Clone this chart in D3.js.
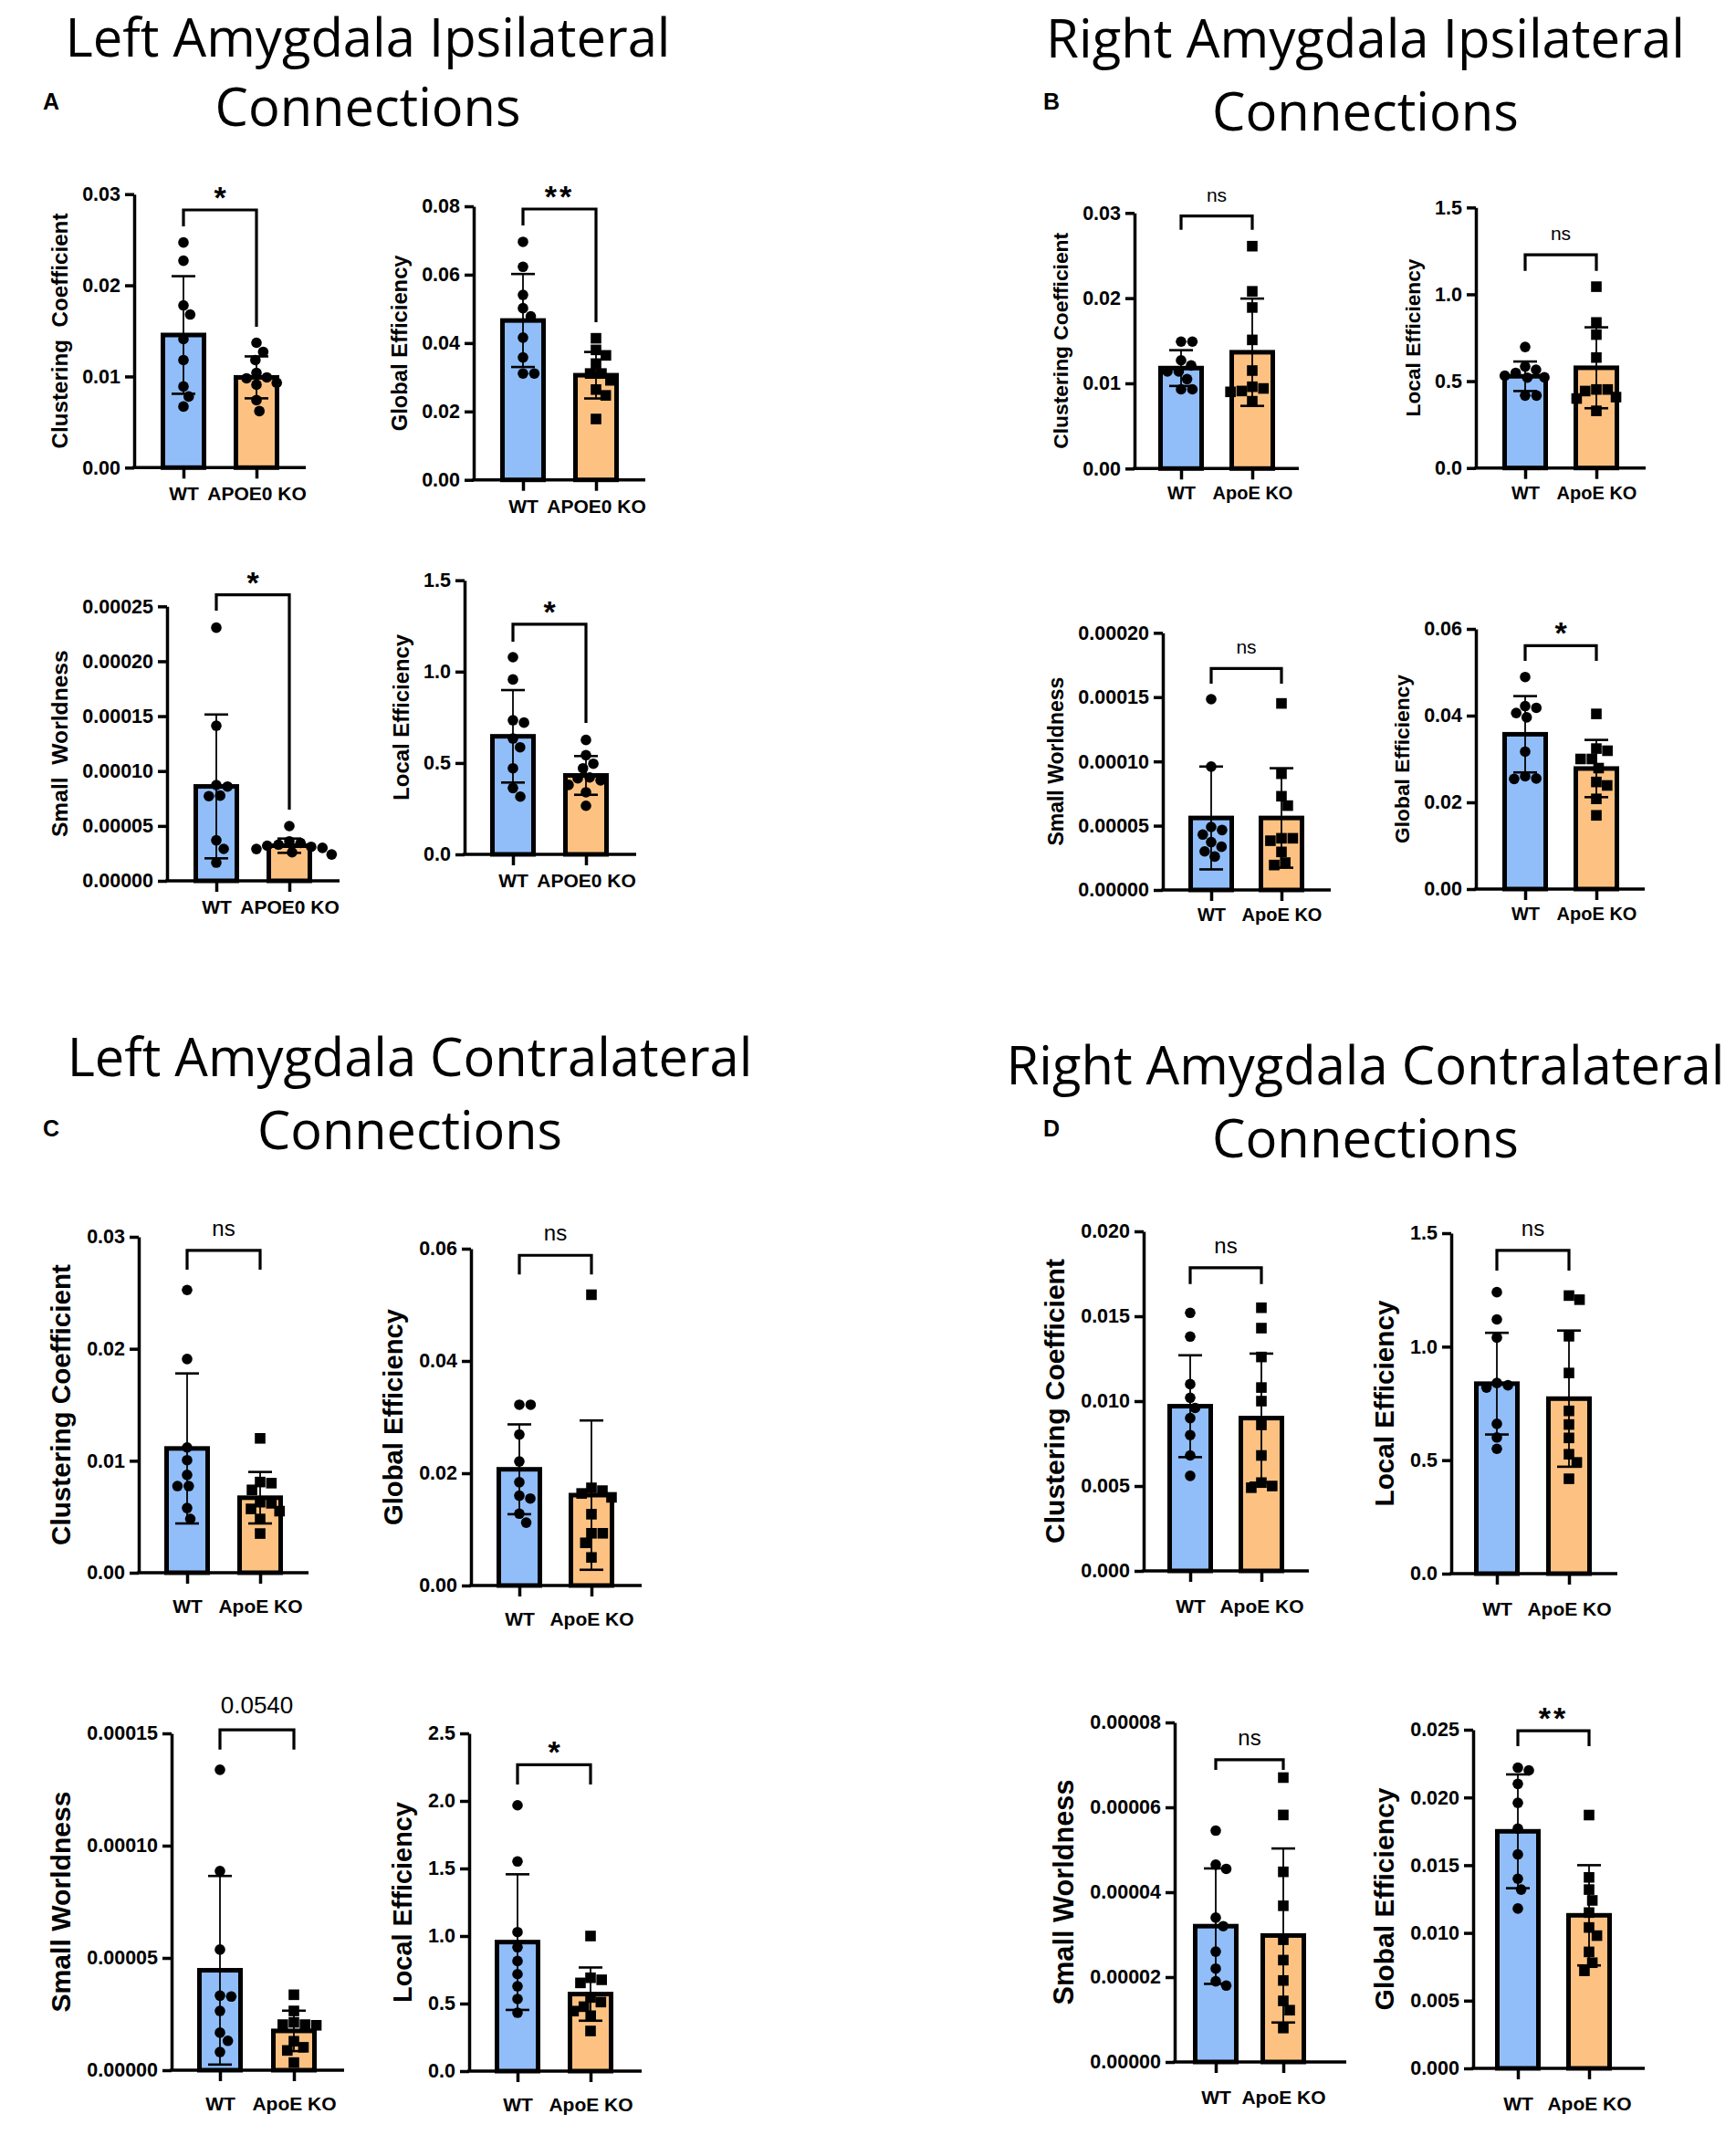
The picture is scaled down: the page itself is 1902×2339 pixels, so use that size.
<!DOCTYPE html>
<html>
<head>
<meta charset="utf-8">
<script src="https://cdn.jsdelivr.net/npm/d3@7"></script>
<style>
  body { margin: 0; background: #fff; }
  text { font-family: "Liberation Sans", Arial, sans-serif; }
</style>
</head>
<body>
<script>
// ---- data ----
var panelLetters = ['A', 'B', 'C', 'D'];
var panelTitles = [
  ['Left Amygdala Ipsilateral', 'Connections'],
  ['Right Amygdala Ipsilateral', 'Connections'],
  ['Left Amygdala Contralateral', 'Connections'],
  ['Right Amygdala Contralateral', 'Connections']
];
var groupsA = ['WT', 'APOE0 KO'];
var groupsOther = ['WT', 'ApoE KO'];

// 16 small charts, 4 per panel (A1..A4, B1..B4, C1..C4, D1..D4)
var yLabels = [
  'Clustering  Coefficient', 'Global Efficiency', 'Small  Worldness', 'Local Efficiency',
  'Clustering Coefficient', 'Local Efficiency', 'Small Worldness', 'Global Efficiency',
  'Clustering Coefficient', 'Global Efficiency', 'Small Worldness', 'Local Efficiency',
  'Clustering Coefficient', 'Local Efficiency', 'Small Worldness', 'Global Efficiency'
];
var yMax = [0.03, 0.08, 0.00025, 1.5, 0.03, 1.5, 0.0002, 0.06, 0.03, 0.06, 0.00015, 2.5, 0.02, 1.5, 0.00008, 0.025];
var yStep = [0.01, 0.02, 0.00005, 0.5, 0.01, 0.5, 0.00005, 0.02, 0.01, 0.02, 0.00005, 0.5, 0.005, 0.5, 0.00002, 0.005];
var tickDecimals = [2, 2, 5, 1, 2, 1, 5, 2, 2, 2, 5, 1, 3, 1, 5, 3];

var wtMean = [0.01455, 0.0466, 0.000086, 0.646, 0.01179, 0.528, 0.000056, 0.0357, 0.0111, 0.0207, 0.0000445, 0.955, 0.0097, 0.837, 0.000032, 0.0175];
var wtSD   = [0.00645, 0.0136, 0.0000655, 0.253, 0.0021, 0.085, 0.00004, 0.0088, 0.0067, 0.0080, 0.000042, 0.502, 0.003, 0.224, 0.0000136, 0.0042];
var koMean = [0.0099, 0.0306, 0.000032, 0.432, 0.01365, 0.577, 0.000056, 0.0278, 0.0067, 0.0161, 0.0000175, 0.57, 0.009, 0.771, 0.0000298, 0.0113];
var koSD   = [0.0023, 0.0068, 0.0000065, 0.106, 0.0063, 0.233, 0.0000387, 0.0066, 0.0023, 0.0133, 0.000009, 0.197, 0.0038, 0.30, 0.0000205, 0.0037];

var wtPoints = [
  [0.0247, 0.0227, 0.0178, 0.0168, 0.0141, 0.0118, 0.0089, 0.0078, 0.0067],
  [0.0696, 0.0623, 0.0541, 0.0502, 0.0478, 0.0416, 0.0358, 0.0311, 0.0311],
  [0.0002306, 0.0001413, 0.0000873, 0.0000859, 0.0000776, 0.0000771, 0.0000369, 0.0000291, 0.0000166],
  [1.079, 0.957, 0.734, 0.721, 0.634, 0.586, 0.471, 0.363, 0.316],
  [0.0149, 0.0149, 0.0127, 0.0121, 0.0114, 0.0114, 0.0105, 0.0093, 0.0093],
  [0.697, 0.584, 0.566, 0.548, 0.531, 0.522, 0.52, 0.417, 0.417],
  [0.0001484, 0.0000959, 0.000049, 0.0000466, 0.0000431, 0.0000372, 0.0000336, 0.00003, 0.000026],
  [0.0489, 0.0422, 0.0418, 0.0406, 0.0396, 0.0317, 0.026, 0.0255, 0.0254],
  [0.02525, 0.01909, 0.01119, 0.01005, 0.00874, 0.00774, 0.00774, 0.00578, 0.00481],
  [0.0322, 0.0322, 0.0269, 0.0221, 0.0184, 0.016, 0.0155, 0.0128, 0.0112],
  [0.0001338, 0.0000887, 0.0000537, 0.0000332, 0.0000328, 0.0000264, 0.0000167, 0.0000131, 0.0000081],
  [1.968, 1.552, 1.029, 0.917, 0.815, 0.718, 0.628, 0.534, 0.432],
  [0.0152, 0.0138, 0.0110, 0.0102, 0.0096, 0.0090, 0.0080, 0.0068, 0.0056],
  [1.24, 1.12, 1.04, 0.84, 0.83, 0.82, 0.66, 0.60, 0.55],
  [0.0000545, 0.0000465, 0.0000455, 0.000034, 0.000032, 0.000026, 0.000022, 0.000019, 0.000018],
  [0.0222, 0.0220, 0.0210, 0.0196, 0.0177, 0.0158, 0.0140, 0.0132, 0.0118]
];
var koPoints = [
  [0.0137, 0.0127, 0.0118, 0.0104, 0.0099, 0.0098, 0.0093, 0.0091, 0.0074, 0.0062],
  [0.0414, 0.0380, 0.0364, 0.0340, 0.0311, 0.0311, 0.0291, 0.0264, 0.0247, 0.0178],
  [0.0000499, 0.000036, 0.0000345, 0.000033, 0.000032, 0.000031, 0.00003, 0.000029, 0.000026, 0.000024],
  [0.626, 0.543, 0.496, 0.471, 0.421, 0.416, 0.405, 0.38, 0.34, 0.266],
  [0.0261, 0.0208, 0.0189, 0.0151, 0.0115, 0.0096, 0.0094, 0.0091, 0.0090, 0.0079],
  [1.044, 0.838, 0.768, 0.636, 0.452, 0.443, 0.452, 0.408, 0.40, 0.329],
  [0.0001451, 0.0000904, 0.0000729, 0.0000656, 0.0000402, 0.0000402, 0.0000383, 0.0000296, 0.0000213, 0.0000194],
  [0.0404, 0.0324, 0.0319, 0.030, 0.030, 0.0279, 0.0247, 0.0239, 0.0208, 0.017],
  [0.0120, 0.0081, 0.0080, 0.0074, 0.0063, 0.0062, 0.0057, 0.0055, 0.0048, 0.0035],
  [0.0518, 0.0174, 0.0169, 0.0164, 0.0157, 0.0127, 0.0093, 0.0093, 0.0076, 0.005],
  [0.0000336, 0.0000264, 0.0000213, 0.0000203, 0.00002, 0.0000203, 0.0000129, 0.0000102, 0.0000088, 0.0000034],
  [1.0, 0.691, 0.676, 0.653, 0.545, 0.511, 0.477, 0.444, 0.41, 0.297],
  [0.0155, 0.0143, 0.0126, 0.0108, 0.0100, 0.0086, 0.0068, 0.0052, 0.0050, 0.0049],
  [1.225, 1.207, 1.046, 0.884, 0.717, 0.657, 0.598, 0.526, 0.49, 0.418],
  [0.000067, 0.0000582, 0.0000448, 0.0000368, 0.0000288, 0.000024, 0.0000192, 0.0000144, 0.0000122, 0.000008],
  [0.0187, 0.0141, 0.0132, 0.0124, 0.0115, 0.0104, 0.0098, 0.0086, 0.0078, 0.0072]
];
var koShape = ['circle', 'square', 'circle', 'circle', 'square', 'square', 'square', 'square',
               'square', 'square', 'square', 'square', 'square', 'square', 'square', 'square'];

// significance brackets (in data units)
var sigText = ['*', '**', '*', '*', 'ns', 'ns', 'ns', '*', 'ns', 'ns', '0.0540', '*', 'ns', 'ns', 'ns', '**'];
var bracketTop = [0.02827, 0.0792, 0.0002605, 1.259, 0.02964, 1.228, 0.0001723, 0.05615, 0.02878, 0.05882, 0.0001516, 2.268, 0.01786, 1.424, 0.0000712, 0.02493];
var bracketWT  = [0.02647, 0.0744, 0.0002461, 1.164, 0.02803, 1.135, 0.0001605, 0.05263, 0.02707, 0.0554, 0.0001428, 2.122, 0.01689, 1.335, 0.0000688, 0.02379];
var bracketKO  = [0.01546, 0.0461, 0.0000648, 0.719, 0.02803, 1.135, 0.0001605, 0.05263, 0.02707, 0.0554, 0.0001428, 2.122, 0.01689, 1.335, 0.0000688, 0.02379];

// ---- layout (pixels) ----
var chartLayout = [
  {ax: 147, yTop: 212.7, y0: 512.3, wt: 201, ko: 281, xEnd: 335, lab: 258},
  {ax: 519, yTop: 226, y0: 525.7, wt: 573, ko: 653, xEnd: 707, lab: 193},
  {ax: 183, yTop: 664.3, y0: 965, wt: 237, ko: 317, xEnd: 372, lab: 205},
  {ax: 509, yTop: 635.7, y0: 936, wt: 562, ko: 642, xEnd: 697, lab: 182},
  {ax: 1243, yTop: 233.3, y0: 513.3, wt: 1294, ko: 1372, xEnd: 1423, lab: 237},
  {ax: 1617, yTop: 227.3, y0: 512.7, wt: 1671, ko: 1749, xEnd: 1803, lab: 173},
  {ax: 1274, yTop: 693.3, y0: 975, wt: 1327, ko: 1404, xEnd: 1458, lab: 185},
  {ax: 1617, yTop: 689, y0: 974, wt: 1671, ko: 1749, xEnd: 1802, lab: 185},
  {ax: 152, yTop: 1355, y0: 1723, wt: 205, ko: 285, xEnd: 338, lab: 308},
  {ax: 516, yTop: 1368, y0: 1737, wt: 569, ko: 648, xEnd: 703, lab: 237},
  {ax: 188, yTop: 1899, y0: 2268, wt: 241, ko: 322, xEnd: 377, lab: 242},
  {ax: 514, yTop: 1899, y0: 2269, wt: 567, ko: 647, xEnd: 703, lab: 220},
  {ax: 1253, yTop: 1349, y0: 1721, wt: 1304, ko: 1382, xEnd: 1434, lab: 312},
  {ax: 1590, yTop: 1351, y0: 1724, wt: 1640, ko: 1719, xEnd: 1772, lab: 226},
  {ax: 1287, yTop: 1887, y0: 2259, wt: 1332, ko: 1406, xEnd: 1475, lab: 247},
  {ax: 1614, yTop: 1895, y0: 2266, wt: 1663, ko: 1741, xEnd: 1802, lab: 244}
];
var titleLayout = [
  {cx: 403, y1: 62, y2: 138, w1: 663, w2: 335, lx: 56, ly: 120},
  {cx: 1496, y1: 63, y2: 143, w1: 700, w2: 336, lx: 1152, ly: 120},
  {cx: 449, y1: 1179, y2: 1259, w1: 751, w2: 334, lx: 56, ly: 1245},
  {cx: 1496, y1: 1188, y2: 1268, w1: 787, w2: 336, lx: 1152, ly: 1245}
];
var xLabelSize = [21, 20, 21, 21];
var xLabelPad = [9, 8, 17, 19];

var wtColor = '#91bef9';
var koColor = '#fdc282';
var ptR = 5.8;

var svg = d3.select('body').append('svg')
  .attr('width', 1902)
  .attr('height', 2339);

function fitText(sel, target) {
  var w = sel.node().getComputedTextLength();
  var fs = parseFloat(sel.attr('font-size'));
  sel.attr('font-size', fs * target / w);
}

// titles and panel letters
panelTitles.forEach(function(lines, p) {
  var t = titleLayout[p];
  var t1 = svg.append('text').attr('x', t.cx).attr('y', t.y1)
    .attr('text-anchor', 'middle').attr('font-size', 56)
    .style('font-family', '"Open Sans", "Noto Sans", sans-serif')
    .text(lines[0]);
  fitText(t1, t.w1);
  var t2 = svg.append('text').attr('x', t.cx).attr('y', t.y2)
    .attr('text-anchor', 'middle').attr('font-size', 56)
    .style('font-family', '"Open Sans", "Noto Sans", sans-serif')
    .text(lines[1]);
  fitText(t2, t.w2);
  svg.append('text').attr('x', t.lx).attr('y', t.ly)
    .attr('text-anchor', 'middle').attr('font-size', 25).attr('font-weight', 'bold')
    .text(panelLetters[p]);
});

// simple beeswarm so overlapping points spread sideways like the original
function swarm(values, yScale, r) {
  var placed = [];
  var pts = values.map(function(v) { return {v: v, py: yScale(v)}; })
    .sort(function(a, b) { return a.py - b.py; });
  pts.forEach(function(p) {
    var cands = [0];
    placed.forEach(function(q) {
      var dy = p.py - q.py;
      if (Math.abs(dy) < 2 * r) {
        var dx = Math.sqrt(4 * r * r - dy * dy);
        cands.push(q.dx + dx, q.dx - dx);
      }
    });
    cands.sort(function(a, b) { return Math.abs(a) - Math.abs(b); });
    for (var k = 0; k < cands.length; k++) {
      var c = cands[k];
      var ok = placed.every(function(q) { return Math.hypot(c - q.dx, p.py - q.py) >= 2 * r - 0.01; });
      if (ok) { p.dx = c; break; }
    }
    placed.push(p);
  });
  return placed;
}

function drawChart(i) {
  var L = chartLayout[i];
  var p = Math.floor(i / 4);
  var groups = p === 0 ? groupsA : groupsOther;
  var g = svg.append('g');

  var y = d3.scaleLinear().domain([0, yMax[i]]).range([L.y0, L.yTop]);
  var x = d3.scalePoint().domain(groups).range([L.wt, L.ko]);

  // y axis
  var yAxis = d3.axisLeft(y)
    .tickValues(d3.range(0, yMax[i] + yStep[i] / 2, yStep[i]))
    .tickFormat(d3.format('.' + tickDecimals[i] + 'f'))
    .tickSize(10).tickSizeOuter(0).tickPadding(5);
  var ay = g.append('g').attr('transform', 'translate(' + L.ax + ',0)').call(yAxis);
  ay.select('.domain').attr('stroke', '#000').attr('stroke-width', 3.5);
  ay.selectAll('.tick line').attr('stroke', '#000').attr('stroke-width', 3.5);
  ay.selectAll('.tick text').attr('font-size', 21.5).attr('font-weight', 'bold')
    .attr('fill', '#000').style('font-family', '"Liberation Sans", Arial, sans-serif');

  // x axis
  var xAxis = d3.axisBottom(x).tickSize(12).tickSizeOuter(0).tickPadding(xLabelPad[p]);
  var axx = g.append('g').attr('transform', 'translate(0,' + L.y0 + ')').call(xAxis);
  axx.select('.domain').remove();
  axx.selectAll('.tick line').attr('stroke', '#000').attr('stroke-width', 3.5);
  axx.selectAll('.tick text').attr('font-size', xLabelSize[p]).attr('font-weight', 'bold')
    .attr('fill', '#000').style('font-family', '"Liberation Sans", Arial, sans-serif');
  g.append('line')
    .attr('x1', L.ax - 1.75).attr('x2', L.xEnd)
    .attr('y1', L.y0).attr('y2', L.y0)
    .attr('stroke', '#000').attr('stroke-width', 3.5);

  // y label, sized to the length it has in the figure
  var bb = ay.node().getBBox();
  var yl = g.append('text')
    .attr('text-anchor', 'middle')
    .attr('font-size', 20).attr('font-weight', 'bold')
    .style('white-space', 'pre')
    .text(yLabels[i]);
  fitText(yl, L.lab);
  var fs = parseFloat(yl.attr('font-size'));
  yl.attr('transform', 'translate(' + (L.ax + bb.x - 8 - fs * 0.35) + ',' + ((L.y0 + L.yTop) / 2) + ') rotate(-90)');

  var groupData = [
    {name: groups[0], mean: wtMean[i], sd: wtSD[i], pts: wtPoints[i], fill: wtColor, shape: 'circle'},
    {name: groups[1], mean: koMean[i], sd: koSD[i], pts: koPoints[i], fill: koColor, shape: koShape[i]}
  ];

  groupData.forEach(function(d) {
    var cx = x(d.name);
    g.append('rect')
      .attr('x', cx - 22.5).attr('width', 45)
      .attr('y', y(d.mean)).attr('height', L.y0 - y(d.mean))
      .attr('fill', d.fill).attr('stroke', '#000').attr('stroke-width', 5);

    // error bar (mean ± SD)
    g.append('line')
      .attr('x1', cx).attr('x2', cx)
      .attr('y1', y(d.mean + d.sd)).attr('y2', y(Math.max(0, d.mean - d.sd)))
      .attr('stroke', '#000').attr('stroke-width', 1.8);
    [d.mean + d.sd, Math.max(0, d.mean - d.sd)].forEach(function(v) {
      g.append('line')
        .attr('x1', cx - 13).attr('x2', cx + 13)
        .attr('y1', y(v)).attr('y2', y(v))
        .attr('stroke', '#000').attr('stroke-width', 2.6);
    });

    var sw = swarm(d.pts, y, ptR + 0.4);
    if (d.shape === 'circle') {
      g.selectAll(null).data(sw).enter().append('circle')
        .attr('cx', function(q) { return cx + q.dx; })
        .attr('cy', function(q) { return q.py; })
        .attr('r', ptR).attr('fill', '#000');
    } else {
      g.selectAll(null).data(sw).enter().append('rect')
        .attr('x', function(q) { return cx + q.dx - ptR; })
        .attr('y', function(q) { return q.py - ptR; })
        .attr('width', ptR * 2).attr('height', ptR * 2).attr('fill', '#000');
    }
  });

  // significance bracket
  var xl = x(groups[0]), xr = x(groups[1]);
  g.append('path')
    .attr('d', 'M' + xl + ',' + y(bracketWT[i]) + 'V' + y(bracketTop[i]) + 'H' + xr + 'V' + y(bracketKO[i]))
    .attr('fill', 'none').attr('stroke', '#000').attr('stroke-width', 3.2);
  var s = sigText[i];
  var st = g.append('text').attr('x', (xl + xr) / 2).attr('text-anchor', 'middle').text(s);
  if (s.indexOf('*') >= 0) {
    st.attr('y', y(bracketTop[i]) - 2).attr('font-size', 34).attr('font-weight', 'bold')
      .attr('letter-spacing', s.length > 1 ? 3 : 0);
  } else if (s === 'ns') {
    st.attr('y', y(bracketTop[i]) - 16).attr('font-size', p >= 2 ? 24 : 21);
  } else {
    st.attr('y', y(bracketTop[i]) - 18).attr('font-size', 26);
  }
}

for (var i = 0; i < chartLayout.length; i++) drawChart(i);
</script>
</body>
</html>
